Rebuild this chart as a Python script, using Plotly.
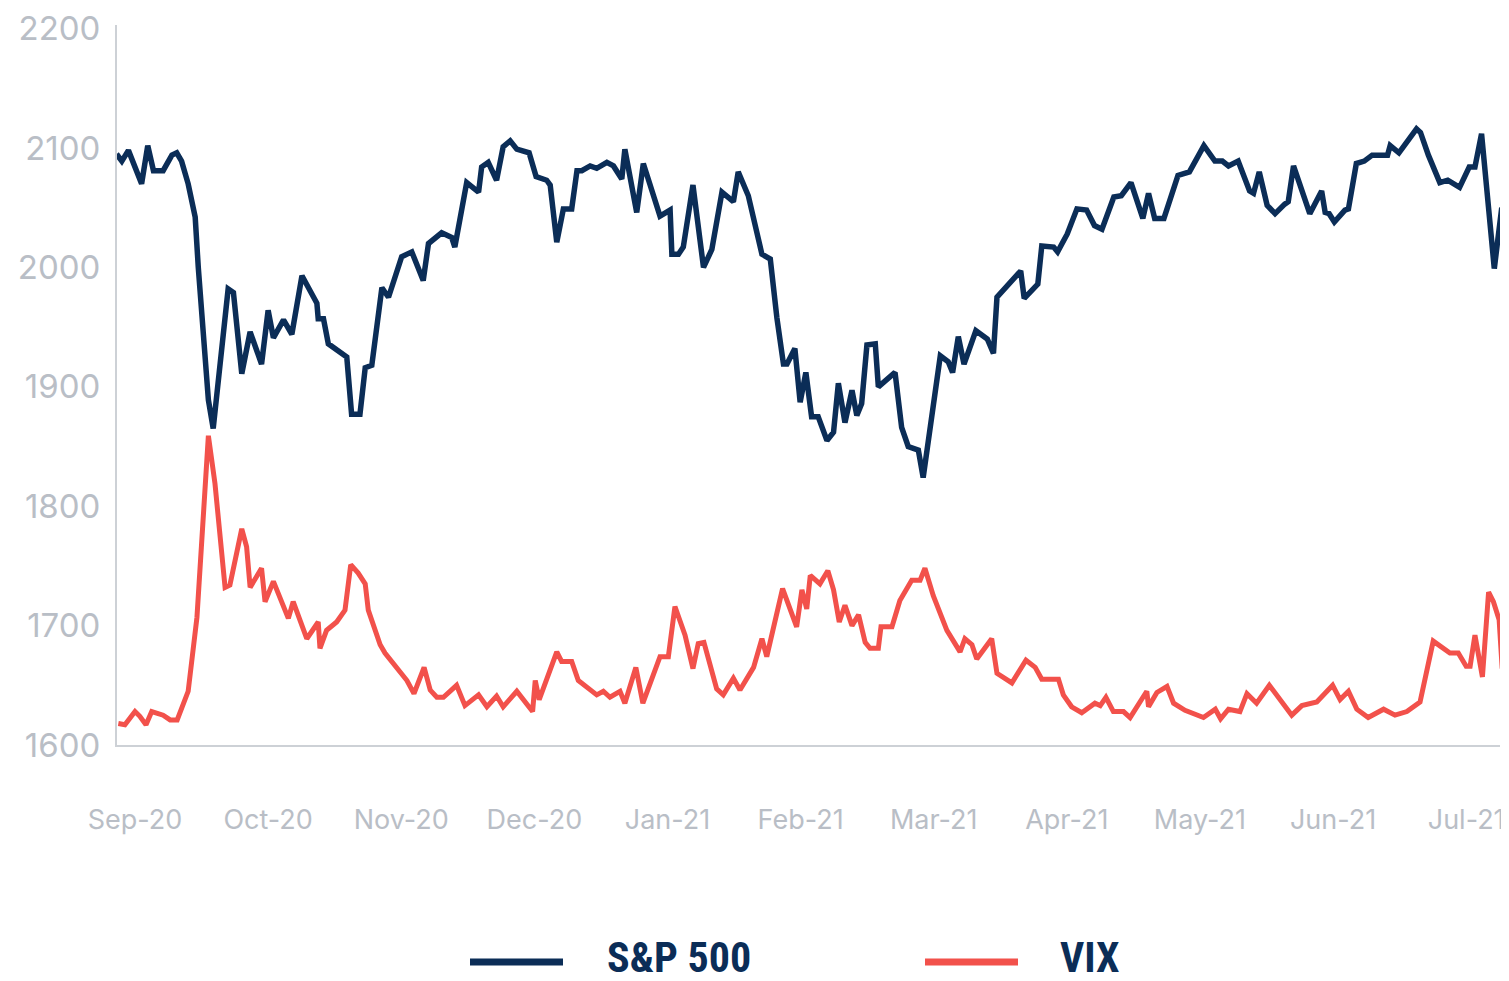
import pandas as pd
import plotly.graph_objects as go

BASE = pd.Timestamp("2020-09-01")

# S&P 500 (index scale) - days since 2020-09-01 and values
spx_days = [-4.2,-3.0,-1.5,1.5,2.9,4.2,6.4,8.4,9.5,10.6,
            12.1,13.7,14.4,15.6,16.7,17.8,19.4,21.2,22.4,24.3,
            26.2,28.8,30.3,31.5,33.8,35.7,38.0,39.8,41.4,41.7,
            42.9,44.0,48.2,49.3,51.2,52.4,53.9,56.2,57.7,60.7,
            63.0,65.6,66.8,69.8,72.1,72.8,75.5,78.2,78.9,80.4,
            82.3,83.8,85.4,86.9,89.7,91.3,93.7,94.5,96.0,97.5,
            99.4,100.6,101.7,103.6,105.1,107.4,108.9,110.8,111.5,114.2,
            115.7,119.5,121.8,122.2,123.7,124.8,127.0,129.4,131.3,133.6,
            136.2,137.3,139.6,142.7,144.6,146.1,147.6,148.4,150.2,151.4,
            152.7,154.0,155.5,157.5,159.0,160.1,161.6,163.2,164.3,165.4,
            166.6,168.5,169.2,173.0,174.5,176.0,178.3,179.4,183.3,185.1,
            186.1,187.4,188.7,191.4,194.0,195.4,196.2,201.6,202.4,205.5,
            206.4,209.1,210.0,212.2,214.4,216.6,218.4,220.1,222.8,224.5,
            226.7,229.4,230.7,232.1,234.2,237.4,240.0,243.3,245.8,247.5,
            248.9,251.1,253.7,254.6,255.9,257.7,259.5,261.7,262.5,263.7,
            267.4,270.1,270.9,271.8,273.0,275.4,276.2,278.0,279.8,281.6,
            285.1,285.7,287.7,291.7,292.6,294.4,297.0,298.8,301.5,303.7,
            305.0,306.5,309.4,311.1]
spx_vals = [2095,2089,2098,2070,2102,2081,2081,2094,2096,2089,
            2070,2042,2000,1944,1889,1865,1916,1982,1979,1911,
            1946,1919,1964,1941,1956,1944,1993,1982,1970,1957,
            1957,1936,1925,1877,1877,1916,1918,1983,1975,2009,
            2013,1989,2020,2029,2025,2017,2071,2063,2084,2088,
            2073,2101,2106,2099,2096,2076,2073,2069,2021,2049,
            2049,2081,2081,2085,2083,2088,2085,2074,2099,2046,
            2087,2043,2048,2011,2011,2017,2069,2000,2015,2063,
            2055,2080,2060,2011,2007,1958,1919,1919,1932,1887,
            1912,1875,1875,1855,1862,1903,1870,1897,1876,1886,
            1935,1936,1900,1912,1866,1850,1847,1824,1926,1921,
            1912,1942,1919,1947,1940,1928,1975,1997,1974,1986,
            2018,2017,2013,2028,2049,2048,2035,2032,2059,2060,
            2071,2041,2062,2041,2041,2077,2080,2102,2089,2089,
            2085,2089,2064,2062,2080,2052,2045,2053,2055,2085,
            2045,2064,2046,2045,2038,2048,2049,2087,2089,2094,
            2094,2102,2096,2116,2113,2094,2071,2073,2067,2084,
            2084,2112,1999,2050]

# VIX (rescaled onto the same axis) - days since 2020-09-01 and values
vix_days = [-3.8,-2.3,0.0,1.1,2.5,3.8,6.4,8.0,9.6,12.1,
            14.1,15.6,16.7,18.2,20.5,21.6,24.3,25.4,26.2,28.8,
            29.6,31.5,34.9,36.0,39.1,41.7,42.1,43.6,45.9,47.8,
            49.1,50.8,52.4,53.1,55.8,56.9,59.6,60.7,61.9,63.5,
            65.8,67.2,68.7,70.2,73.2,75.1,78.2,80.1,82.3,83.8,
            86.9,90.5,91.1,92.0,96.0,97.1,99.4,100.9,105.1,106.6,
            108.1,110.4,111.5,114.0,115.6,119.5,121.4,122.9,125.2,127.0,
            128.2,129.5,132.4,133.9,136.2,137.7,140.8,142.7,143.8,147.4,
            150.6,151.8,152.9,153.7,155.9,157.7,159.0,160.3,161.6,163.2,
            164.7,166.2,167.3,169.2,169.8,172.3,174.1,176.8,178.7,179.8,
            181.7,184.8,187.8,188.9,190.5,191.6,195.0,196.2,199.6,202.8,
            204.9,206.4,210.2,211.3,213.2,215.5,218.5,219.7,221.0,222.7,
            225.0,226.5,230.3,230.7,232.6,234.9,236.4,239.0,243.2,245.9,
            247.1,248.9,251.5,253.1,255.3,258.2,263.3,265.6,269.0,272.6,
            274.3,276.2,278.1,280.7,284.2,286.8,289.5,292.5,295.5,299.3,
            301.2,303.0,303.9,305.0,306.7,308.1,309.2,310.5,311.2]
vix_vals = [1618,1617,1628,1624,1617,1628,1625,1621,1621,1645,
            1707,1805,1859,1819,1732,1734,1781,1766,1732,1748,
            1720,1737,1706,1720,1689,1703,1681,1696,1703,1713,
            1751,1744,1735,1713,1684,1677,1665,1659,1654,1643,
            1665,1646,1640,1640,1650,1633,1642,1632,1641,1632,
            1645,1628,1654,1638,1678,1670,1670,1654,1642,1645,
            1640,1645,1635,1665,1635,1674,1674,1716,1692,1664,
            1685,1686,1647,1642,1656,1646,1665,1689,1674,1731,
            1699,1730,1714,1742,1735,1746,1730,1703,1717,1700,
            1709,1686,1681,1681,1699,1699,1721,1738,1738,1748,
            1725,1696,1678,1689,1684,1672,1689,1660,1652,1671,
            1665,1655,1655,1642,1632,1627,1635,1633,1640,1628,
            1628,1623,1645,1632,1644,1649,1635,1629,1623,1630,
            1622,1630,1628,1643,1635,1650,1625,1633,1636,1650,
            1638,1645,1630,1623,1630,1625,1628,1636,1687,1677,
            1677,1666,1666,1692,1657,1728,1720,1705,1664]

month_labels = ["Sep-20", "Oct-20", "Nov-20", "Dec-20", "Jan-21", "Feb-21",
                "Mar-21", "Apr-21", "May-21", "Jun-21", "Jul-21"]
y_ticks = [1600, 1700, 1800, 1900, 2000, 2100, 2200]

NAVY = "#0b2d57"
RED = "#f2514b"
GREY_TXT = "#b9bec6"
GREY_AX = "#cdd1d6"

def to_dates(days):
    return [BASE + pd.Timedelta(days=d) for d in days]

fig = go.Figure()
fig.add_trace(go.Scatter(x=to_dates(spx_days), y=spx_vals, mode="lines", name="S&P 500",
                         line=dict(color=NAVY, width=5.5), showlegend=False))
fig.add_trace(go.Scatter(x=to_dates(vix_days), y=vix_vals, mode="lines", name="VIX",
                         line=dict(color=RED, width=5), showlegend=False))

tick_dates = [BASE + pd.Timedelta(days=30.3 * i) for i in range(len(month_labels))]

# page body has an 8px margin; size the figure so it ends at the window edge
fig.update_layout(
    width=1501, height=973,
    margin=dict(l=109, r=9, t=17, b=236, autoexpand=False),
    paper_bgcolor="white", plot_bgcolor="white",
    font=dict(family="Inter, Lato, sans-serif", color=GREY_TXT),
    xaxis=dict(
        range=[BASE + pd.Timedelta(days=-4.1), BASE + pd.Timedelta(days=310.7)],
        tickvals=tick_dates, ticktext=month_labels,
        showgrid=False, zeroline=False, automargin=False,
        showline=True, linecolor=GREY_AX, linewidth=2,
        ticks="outside", ticklen=50, tickcolor="rgba(0,0,0,0)",
        tickfont=dict(size=27, color=GREY_TXT, family="Inter, Lato, sans-serif"),
    ),
    yaxis=dict(
        range=[1600, 2203],
        tickvals=y_ticks,
        showgrid=False, zeroline=False, automargin=False,
        showline=True, linecolor=GREY_AX, linewidth=2,
        ticks="outside", ticklen=8, tickcolor="rgba(0,0,0,0)",
        tickfont=dict(size=33, color=GREY_TXT, family="Inter, Lato, sans-serif"),
    ),
)

# manual legend (long line swatches), positioned in paper units of the plot area
PLOT_L, PLOT_R, PLOT_B, PLOT_H = 117, 1500, 745, 720

def px_x(p):
    return (p - PLOT_L) / float(PLOT_R - PLOT_L)

def px_y(p):
    return (PLOT_B - p) / float(PLOT_H)

leg_y = px_y(962)
for x0, x1, col, label, tx in [(470, 563, NAVY, "S&P 500", 605), (925, 1018, RED, "VIX", 1058)]:
    fig.add_shape(type="line", xref="paper", yref="paper",
                  x0=px_x(x0), x1=px_x(x1), y0=leg_y, y1=leg_y,
                  line=dict(color=col, width=7))
    fig.add_annotation(xref="paper", yref="paper", x=px_x(tx), y=px_y(957),
                       xanchor="left", yanchor="middle", showarrow=False,
                       text="<b>" + label + "</b>",
                       font=dict(size=42, color=NAVY,
                                 family="Liberation Sans Narrow, Roboto Condensed, Roboto, sans-serif"))

fig.write_html("out.html")
